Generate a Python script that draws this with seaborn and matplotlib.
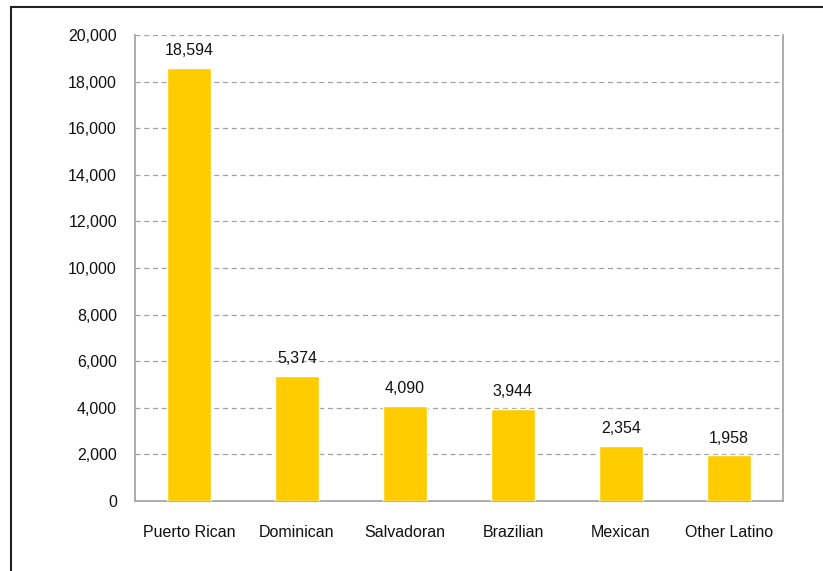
import matplotlib
matplotlib.use("Agg")
import matplotlib.pyplot as plt
import seaborn as sns
import pandas as pd
from matplotlib.patches import Rectangle

# Данные
groups = ['Puerto Rican', 'Dominican', 'Salvadoran', 'Brazilian', 'Mexican', 'Other Latino']
counts = [18594, 5374, 4090, 3944, 2354, 1958]
y_ticks = [0, 2000, 4000, 6000, 8000, 10000, 12000, 14000, 16000, 18000, 20000]

df = pd.DataFrame({'group': groups, 'count': counts})

sns.set_theme(style='white')
plt.rcParams['font.family'] = ['Liberation Sans', 'DejaVu Sans']

fig = plt.figure(figsize=(8.23, 5.71), dpi=100)
ax = fig.add_axes([135 / 823, 1 - 501 / 571, 648 / 823, 466 / 571])

sns.barplot(data=df, x='group', y='count', color='#FFCC00', width=0.4,
            saturation=1, ax=ax, zorder=3)

grey = '#A0A0A0'
ax.set_ylim(0, 20000)
ax.set_xlim(-0.5, len(groups) - 0.5)
ax.set_yticks(y_ticks)
ax.set_yticklabels([f'{v:,}' for v in y_ticks], fontsize=11.5, color='#111111')
for v in y_ticks[1:]:
    ax.axhline(v, color=grey, linestyle=(0, (4, 3)), linewidth=0.9, zorder=1)

# подписи категорий без делений, деления между категориями
ax.set_xticks(range(len(groups)))
ax.set_xticklabels(groups, fontsize=11.5, color='#111111')
ax.tick_params(axis='x', length=0, pad=17)
ax.set_xticks([i - 0.5 for i in range(len(groups) + 1)], minor=True)
ax.tick_params(axis='x', which='minor', length=6, color=grey, width=1, direction='out')
ax.tick_params(axis='y', length=6, color=grey, width=1, direction='out', pad=7)

ax.set_xlabel('')
ax.set_ylabel('')
for side in ['left', 'bottom', 'right']:
    ax.spines[side].set_visible(True)
    ax.spines[side].set_color(grey)
    ax.spines[side].set_linewidth(1.2)
ax.spines['top'].set_visible(False)

for i, v in enumerate(counts):
    ax.annotate(f'{v:,}', (i, v), xytext=(0, 7), textcoords='offset points',
                ha='center', va='bottom', fontsize=11.5, color='#111111')

# внешняя рамка
fig.patches.append(Rectangle((11 / 823, -0.05), 1.0, 1 - 7 / 571 + 0.05,
                             transform=fig.transFigure, fill=False,
                             edgecolor='#222222', linewidth=1.5))

fig.savefig('out.png', dpi=100)
